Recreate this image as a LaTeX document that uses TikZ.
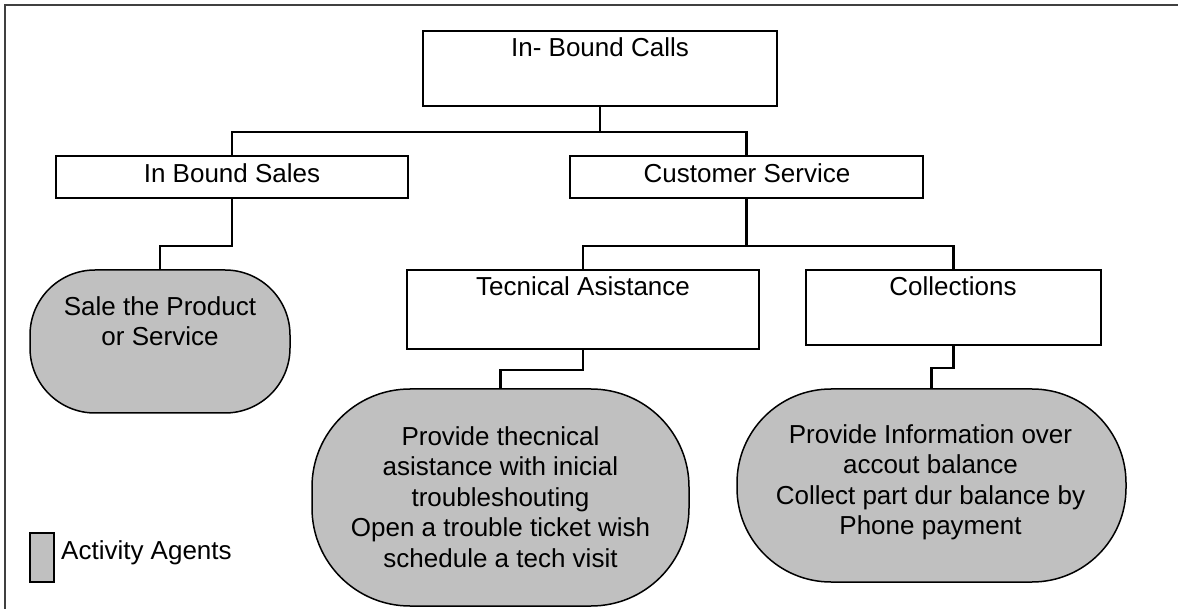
\documentclass[tikz,border=0pt]{standalone}
\usepackage{fontspec}
\setmainfont{Liberation Sans}
\definecolor{agentgray}{RGB}{192,192,192}
\definecolor{framegray}{RGB}{64,64,64}
\begin{document}
\begin{tikzpicture}[x=1pt,y=-1pt,
  box/.style={draw=black, line width=1.8pt, fill=white, rectangle, inner sep=0pt},
  agent/.style={draw=black, line width=1.5pt, fill=agentgray, rectangle, inner sep=0pt},
  conn/.style={draw=black, line width=2.4pt},
  lbl/.style={font=\fontsize{26}{30.5}\selectfont, inner sep=0pt, align=center, text=black}
]
\useasboundingbox (0,0) rectangle (1178,609);
% frame
\draw[framegray, line width=2pt] (5,609) -- (5,5) -- (1178,5);

% boxes
\node[box, minimum width=354pt, minimum height=75pt] (calls) at (600,68.5) {};
\node[box, minimum width=352pt, minimum height=42pt] (sales) at (232,177) {};
\node[box, minimum width=353pt, minimum height=42pt] (cs) at (746.5,177) {};
\node[box, minimum width=352pt, minimum height=79pt] (tech) at (583,309.5) {};
\node[box, minimum width=295pt, minimum height=75pt] (coll) at (953.5,307.5) {};

% agent shapes
\node[agent, minimum width=260pt, minimum height=143pt, rounded corners=65pt] (sale) at (160,341.5) {};
\node[agent, minimum width=377pt, minimum height=217pt, rounded corners=98pt] (techag) at (500.5,497.5) {};
\node[agent, minimum width=389pt, minimum height=193pt, rounded corners=94pt] (collag) at (931.5,485.5) {};

% box labels
\node[lbl, anchor=base] (callst) at (600,57) {In- Bound Calls};
\node[lbl, anchor=base] (salest) at (232,183) {In Bound Sales};
\node[lbl, anchor=base] (cst) at (747,183) {Customer Service};
\node[lbl, anchor=base] (techt) at (583,296) {Tecnical Asistance};
\node[lbl, anchor=base] (collt) at (953,296) {Collections};

% agent texts
\node[lbl, anchor=north] (salet) at (160,296) {Sale the Product\\or Service};
\node[lbl, anchor=north] (techagt) at (500.5,426) {Provide thecnical\\asistance with inicial\\troubleshouting\\Open a trouble ticket wish\\schedule a tech visit};
\node[lbl, anchor=north] (collagt) at (930.5,424) {Provide Information over\\accout balance\\Collect part dur balance by\\Phone payment};

% connectors
\coordinate (j1) at (600,132);
\draw[conn] (calls.south) -- (j1);
\draw[conn] (sales.north) |- (j1) -| (cs.north);
\draw[conn] (sales.south) -- ++(0,47) -| (sale.north);
\draw[conn] (cs.south) -- ++(0,47) coordinate (j2);
\draw[conn] (tech.north) |- (j2) -| (coll.north);
\draw[conn] (tech.south) -- ++(0,20) -| (techag.north);
\draw[conn] (coll.south) -- ++(0,22) -| (collag.north);

% legend
\node[agent, minimum width=24pt, minimum height=49pt] (leg) at (42,557.5) {};
\node[lbl, anchor=base west] (legt) at (61,559) {Activity Agents};
\end{tikzpicture}
\end{document}
